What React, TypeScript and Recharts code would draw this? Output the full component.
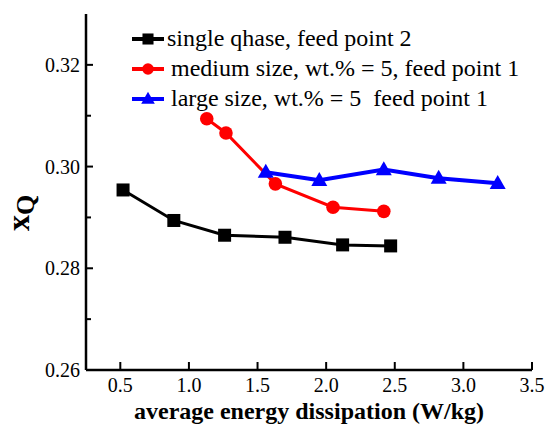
import { LineChart, Line, XAxis, YAxis } from "recharts";

const singleX = [0.52, 0.89, 1.26, 1.7, 2.12, 2.47];
const singleY = [0.2954, 0.2894, 0.2865, 0.2861, 0.2846, 0.2844];
const mediumX = [1.13, 1.27, 1.63, 2.05, 2.42];
const mediumY = [0.3094, 0.3066, 0.2966, 0.292, 0.2912];
const largeX = [1.56, 1.95, 2.42, 2.82, 3.25];
const largeY = [0.2989, 0.2973, 0.2994, 0.2977, 0.2967];

const seriesNames = [
  "single qhase, feed point 2",
  "medium size, wt.% = 5, feed point 1",
  "large size, wt.% = 5  feed point 1",
];
const seriesColors = ["#000000", "#ff0000", "#0000ff"];

const xTicks = [0.5, 1.0, 1.5, 2.0, 2.5, 3.0, 3.5];
const yTicks = [0.26, 0.27, 0.28, 0.29, 0.3, 0.31, 0.32];
const yMajor = [0.26, 0.28, 0.3, 0.32];

const FONT = "Liberation Serif";
const txt = { fontFamily: FONT };

const toPoints = (xs: number[], ys: number[]) =>
  xs.map((x, i) => ({ x, y: ys[i] }));

const singleData = toPoints(singleX, singleY);
const mediumData = toPoints(mediumX, mediumY);
const largeData = toPoints(largeX, largeY);

function Marker({ shape, cx, cy, color, size = 1 }: any) {
  if (shape === "square") {
    const s = 13 * size;
    return <rect x={cx - s / 2} y={cy - s / 2} width={s} height={s} fill={color} />;
  }
  if (shape === "circle") {
    return <circle cx={cx} cy={cy} r={6.8 * size} fill={color} />;
  }
  const w = 16 * size;
  const h = 14 * size;
  return (
    <polygon
      points={`${cx},${cy - h * 0.6} ${cx - w / 2},${cy + h * 0.4} ${cx + w / 2},${cy + h * 0.4}`}
      fill={color}
    />
  );
}

const dotFor = (shape: string, color: string) => (props: any) =>
  (
    <Marker
      key={`${shape}-${props.index}`}
      shape={shape}
      cx={props.cx}
      cy={props.cy}
      color={color}
    />
  );

const shapes = ["square", "circle", "triangle"];

function LeftTick(props: any) {
  const { x, y, payload } = props;
  const major = yMajor.some((v) => Math.abs(v - payload.value) < 1e-6);
  return (
    <g>
      <line x1={x} x2={x + (major ? 7 : 5)} y1={y} y2={y} stroke="#000" strokeWidth={2} />
      {major && (
        <text
          x={x - 6}
          y={y}
          textAnchor="end"
          dominantBaseline="central"
          style={txt}
          fontSize={20}
          fill="#000"
        >
          {payload.value.toFixed(2)}
        </text>
      )}
    </g>
  );
}

function BottomTick(props: any) {
  const { x, y, payload } = props;
  return (
    <g>
      <line x1={x} x2={x} y1={y} y2={y - 8} stroke="#000" strokeWidth={2} />
      <text x={x} y={y + 22} textAnchor="middle" style={txt} fontSize={20} fill="#000">
        {payload.value.toFixed(1)}
      </text>
    </g>
  );
}

function RightTick(props: any) {
  const { x, y } = props;
  return <line x1={x - 3} x2={x} y1={y} y2={y} stroke="#000" strokeWidth={2} />;
}

function LegendBox() {
  return (
    <svg
      width={420}
      height={120}
      style={{ position: "absolute", left: 126, top: 14, display: "block" }}
    >
      {seriesNames.map((name, i) => {
        const y = 25 + i * 30;
        return (
          <g key={name}>
            <line x1={6} x2={38} y1={y} y2={y} stroke={seriesColors[i]} strokeWidth={4} />
            <Marker shape={shapes[i]} cx={22} cy={y} color={seriesColors[i]} size={0.85} />
            <text
              x={i === 0 ? 41 : 45}
              y={y + 7}
              style={{ ...txt, whiteSpace: "pre" }}
              fontSize={24}
              fill="#000"
            >
              {name}
            </text>
          </g>
        );
      })}
    </svg>
  );
}

export default function App() {
  return (
    <div style={{ position: "absolute", left: 0, top: 0, background: "#fff" }}>
      <LineChart
        width={547}
        height={426}
        margin={{ top: 14, right: 15, left: 0, bottom: 0 }}
      >
        <XAxis
          dataKey="x"
          type="number"
          domain={[0.25, 3.5]}
          ticks={xTicks}
          allowDataOverflow
          height={56}
          axisLine={{ stroke: "#000", strokeWidth: 2.5 }}
          tickLine={false}
          tickSize={0}
          tickMargin={0}
          tick={<BottomTick />}
          label={{
            content: () => (
              <text
                x={309}
                y={419}
                textAnchor="middle"
                style={txt}
                fontWeight="bold"
                fontSize={24}
                fill="#000"
              >
                average energy dissipation (W/kg)
              </text>
            ),
          }}
        />
        <XAxis
          xAxisId="top"
          orientation="top"
          dataKey="x"
          type="number"
          domain={[0.25, 3.5]}
          height={0}
          tick={false}
          tickLine={false}
          axisLine={{ stroke: "#000", strokeWidth: 2.5 }}
        />
        <YAxis
          type="number"
          domain={[0.26, 0.33]}
          ticks={yTicks}
          allowDataOverflow
          width={86}
          axisLine={{ stroke: "#000", strokeWidth: 2.5 }}
          tickLine={false}
          tickSize={0}
          tickMargin={0}
          tick={<LeftTick />}
          label={{
            content: () => (
              <text
                transform="translate(29, 213) rotate(-90)"
                textAnchor="middle"
                style={txt}
                fontWeight="bold"
                fill="#000"
              >
                <tspan fontSize={32}>x</tspan>
                <tspan fontSize={26} dy={5}>Q</tspan>
              </text>
            ),
          }}
        />
        <YAxis
          yAxisId="right"
          orientation="right"
          type="number"
          domain={[0.26, 0.33]}
          ticks={[0.29]}
          width={0}
          axisLine={{ stroke: "#000", strokeWidth: 2.5 }}
          tickLine={false}
          tickSize={0}
          tickMargin={0}
          tick={<RightTick />}
        />
        <Line
          data={singleData}
          dataKey="y"
          name={seriesNames[0]}
          stroke={seriesColors[0]}
          strokeWidth={3}
          dot={dotFor("square", seriesColors[0])}
          activeDot={false}
          isAnimationActive={false}
        />
        <Line
          data={mediumData}
          dataKey="y"
          name={seriesNames[1]}
          stroke={seriesColors[1]}
          strokeWidth={3}
          dot={dotFor("circle", seriesColors[1])}
          activeDot={false}
          isAnimationActive={false}
        />
        <Line
          data={largeData}
          dataKey="y"
          name={seriesNames[2]}
          stroke={seriesColors[2]}
          strokeWidth={4}
          dot={dotFor("triangle", seriesColors[2])}
          activeDot={false}
          isAnimationActive={false}
        />
      </LineChart>
      <LegendBox />
    </div>
  );
}
